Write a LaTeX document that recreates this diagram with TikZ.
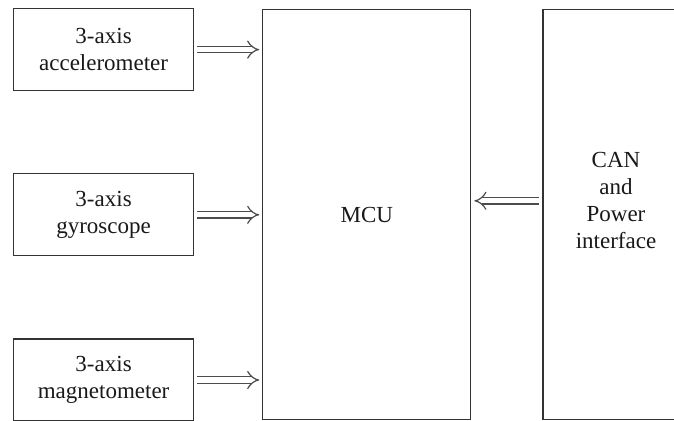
\documentclass[tikz,border=0pt]{standalone}
\usepackage{fontspec}
\setmainfont{Liberation Serif}
\usetikzlibrary{positioning, arrows.meta}

\begin{document}
\begin{tikzpicture}[
    node distance=41pt,
    box/.style={rectangle, draw=black!80, line width=0.6pt, align=center, font=\fontsize{11.5}{13.5}\selectfont, text=black!90},
    sensor/.style={box, minimum width=90pt, minimum height=41pt},
    unit/.style={box, minimum width=104pt, minimum height=205pt},
    arrow/.style={draw=black!70, line width=0.6pt, double, double distance=2.6pt, -{Implies}, shorten <=1.5pt, shorten >=1.5pt}
]
\clip (0,0) rectangle (337pt,-210pt);

\node[sensor, anchor=north west] (acc) at (6.5pt,-4pt) {3-axis\\accelerometer};
\node[sensor] (gyro) [below=of acc] {3-axis\\gyroscope};
\node[sensor] (mag) [below=of gyro] {3-axis\\magnetometer};

\node[unit] (mcu) [right=34pt of gyro] {MCU};
\node[unit, minimum width=73pt,
    label={[font=\fontsize{11.5}{13.5}\selectfont, align=center, text=black!90, yshift=7pt]center:CAN\\and\\Power\\interface}]
    (can) [right=35.5pt of mcu] {};

\draw[arrow] (acc.east) -- (acc.east -| mcu.west);
\draw[arrow] (gyro.east) -- (gyro.east -| mcu.west);
\draw[arrow] (mag.east) -- (mag.east -| mcu.west);

\draw[arrow] ([yshift=7pt]can.west) -- ([yshift=7pt]mcu.east);

\end{tikzpicture}
\end{document}
